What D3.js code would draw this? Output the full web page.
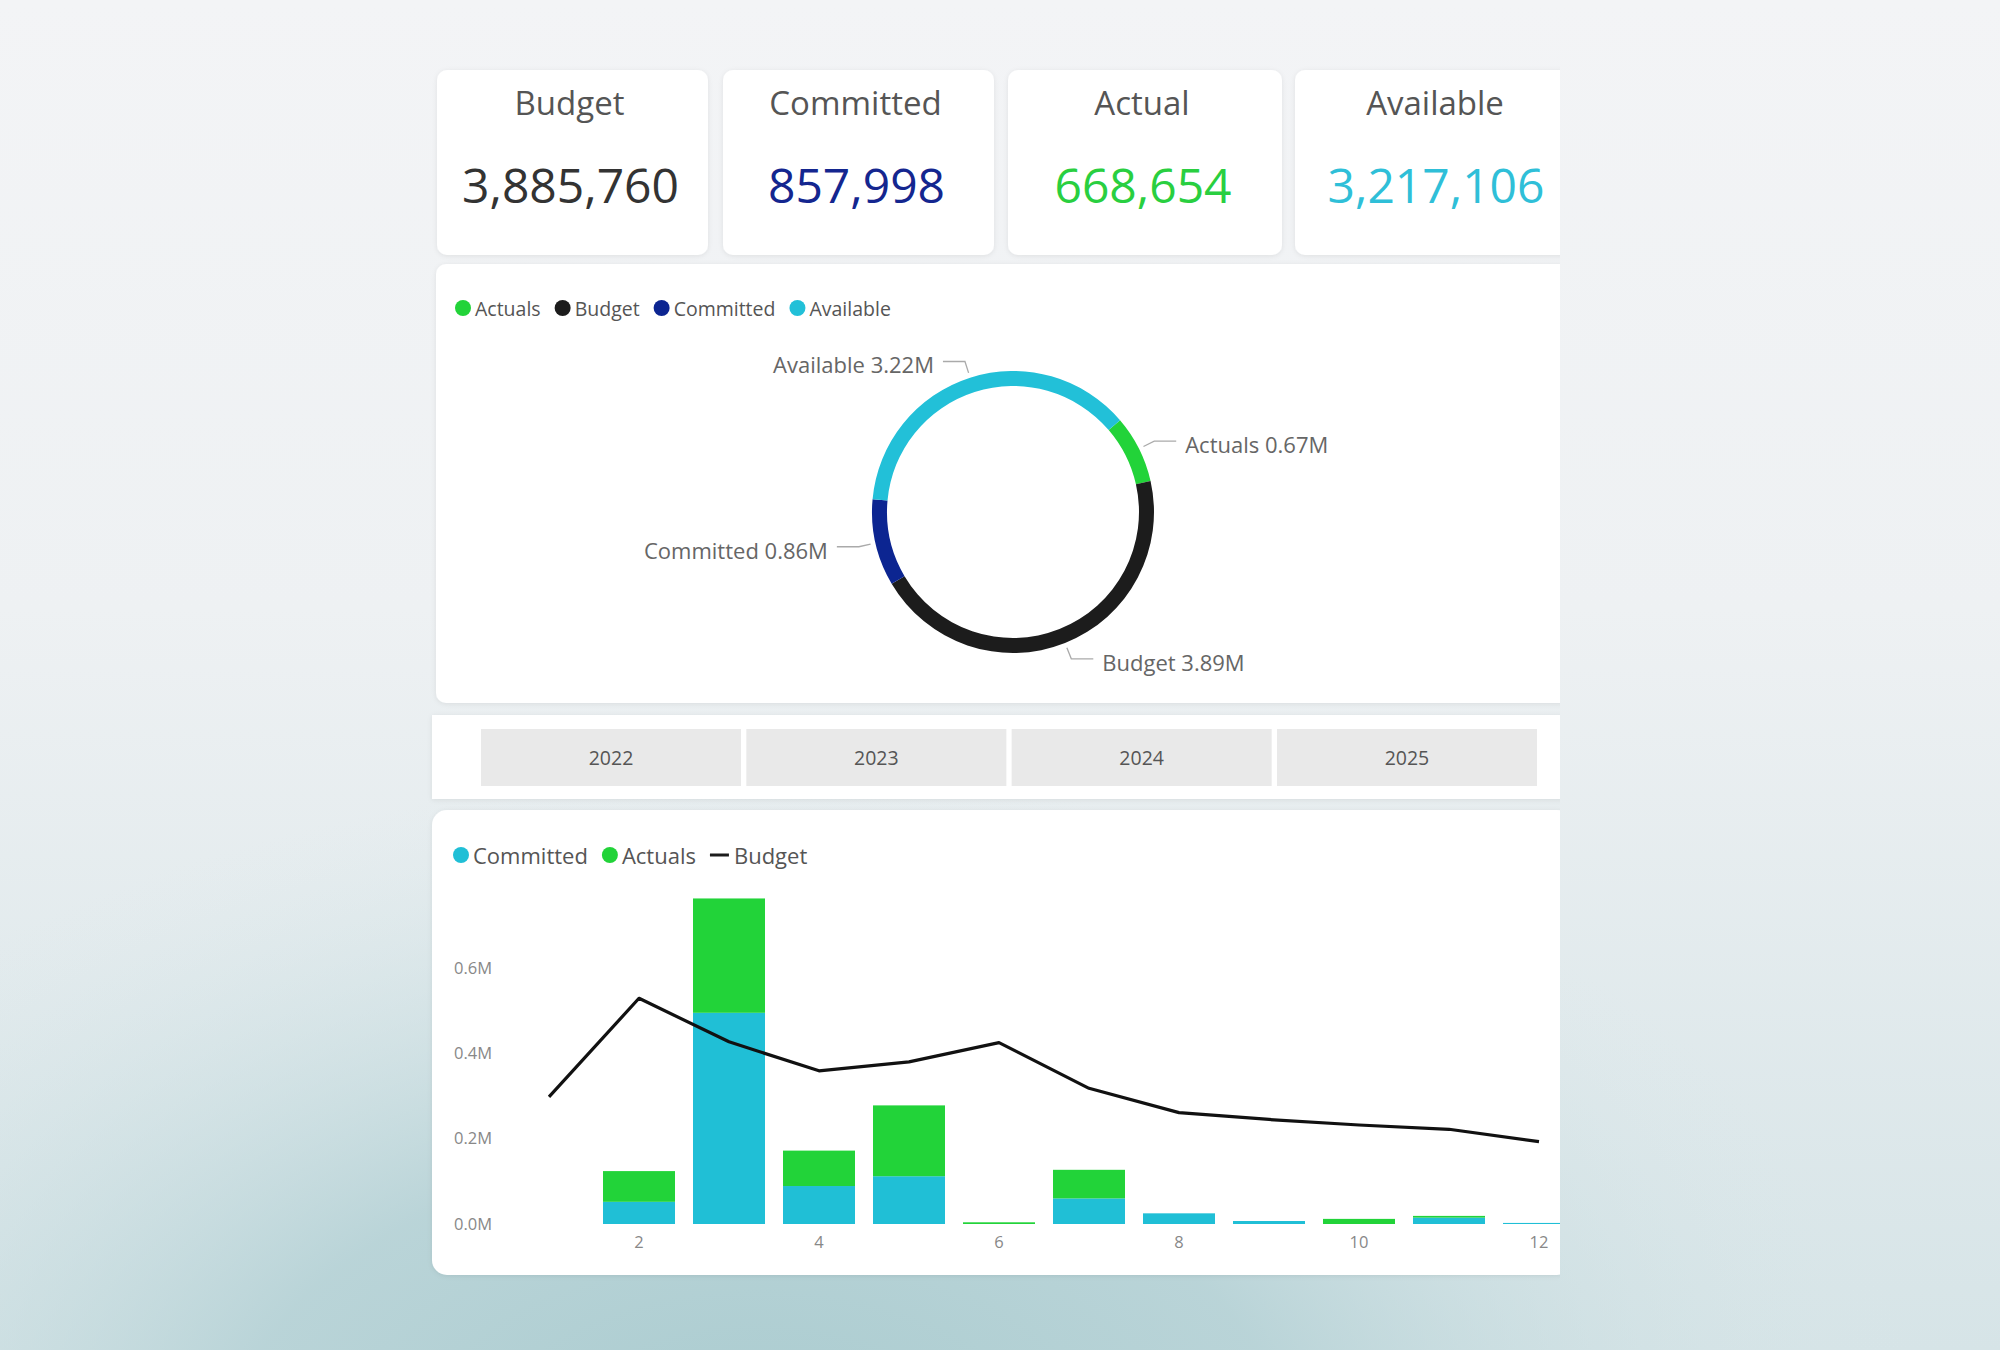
<!DOCTYPE html>
<html>
<head>
<meta charset="utf-8">
<script src="https://cdn.jsdelivr.net/npm/d3@7"></script>
<style>
  body { margin: 0; }
  svg { display: block; font-family: "Segoe UI", "Open Sans", sans-serif; }
</style>
</head>
<body>
<div id="chart"></div>
<script>
// card values
var cardTitles = ["Budget", "Committed", "Actual", "Available"];
var cardValues = [3885760, 857998, 668654, 3217106];

// donut
var donutCategories = ["Actuals", "Budget", "Committed", "Available"];
var donutValues = [668654, 3885760, 857998, 3217106];

// year slicer
var years = ["2022", "2023", "2024", "2025"];

// monthly bars + line
var months = [1, 2, 3, 4, 5, 6, 7, 8, 9, 10, 11, 12];
var committed = [0, 52000, 495000, 89000, 112000, 0, 60000, 25000, 7000, 0, 15000, 2500];
var actuals = [0, 72000, 268000, 83000, 166000, 4000, 67000, 0, 0, 12000, 4000, 0];
var budget = [298000, 529000, 427000, 359000, 380000, 425000, 318000, 261000, 245000, 232000, 222000, 193000];
var yTicks = [0, 200000, 400000, 600000];
var xTicks = [2, 4, 6, 8, 10, 12];

var colors = {
  Actuals: "#22d339",
  Budget: "#1c1c1c",
  Committed: "#0c2591",
  Available: "#22c0d8"
};
var cardColors = ["#333333", "#14268f", "#29cf40", "#2fbfd8"];
var barCyan = "#20bfd6";

var W = 2000, H = 1350;
var svg = d3.select("#chart").append("svg")
  .attr("width", W)
  .attr("height", H);

var defs = svg.append("defs");

// background gradients
var lg = defs.append("linearGradient").attr("id", "bg").attr("x1", 0).attr("y1", 0).attr("x2", 0).attr("y2", 1);
lg.append("stop").attr("offset", "0%").attr("stop-color", "#f3f4f6");
lg.append("stop").attr("offset", "45%").attr("stop-color", "#eef1f3");
lg.append("stop").attr("offset", "100%").attr("stop-color", "#d6e4e7");
var rg = defs.append("radialGradient").attr("id", "glow")
  .attr("gradientUnits", "userSpaceOnUse")
  .attr("cx", 760).attr("cy", 1450).attr("r", 900)
  .attr("gradientTransform", "translate(760,1450) scale(1.3,0.75) translate(-760,-1450)");
rg.append("stop").attr("offset", "0%").attr("stop-color", "#a9cbcf").attr("stop-opacity", 1);
rg.append("stop").attr("offset", "45%").attr("stop-color", "#b4d1d5").attr("stop-opacity", 0.85);
rg.append("stop").attr("offset", "100%").attr("stop-color", "#dbe8ea").attr("stop-opacity", 0);

var shadow = defs.append("filter").attr("id", "shadow").attr("x", "-10%").attr("y", "-10%").attr("width", "120%").attr("height", "130%");
shadow.append("feDropShadow").attr("dx", 0).attr("dy", 1).attr("stdDeviation", 2.5)
  .attr("flood-color", "#000").attr("flood-opacity", 0.08);

defs.append("clipPath").attr("id", "dash")
  .append("rect").attr("x", 0).attr("y", 0).attr("width", 1560).attr("height", H);

svg.append("rect").attr("width", W).attr("height", H).attr("fill", "url(#bg)");
svg.append("rect").attr("width", W).attr("height", H).attr("fill", "url(#glow)");

var dash = svg.append("g").attr("clip-path", "url(#dash)");

// ---- KPI cards
var cardX = [437, 723, 1008, 1295];
var cardW = [271, 271, 274, 286];
var fmt = d3.format(",");
var cards = dash.selectAll(".card")
  .data(cardTitles)
  .enter()
  .append("g")
  .attr("class", "card")
  .attr("transform", function(d, i) { return "translate(" + cardX[i] + ",70)"; });
cards.append("rect")
  .attr("width", function(d, i) { return cardW[i]; })
  .attr("height", 185)
  .attr("rx", 10)
  .attr("fill", "#fff")
  .attr("filter", "url(#shadow)");
cards.append("text")
  .attr("x", function(d, i) { return cardW[i] / 2 - 3; })
  .attr("y", 45)
  .attr("text-anchor", "middle")
  .attr("font-size", 33)
  .attr("fill", "#555")
  .text(function(d) { return d; });
cards.append("text")
  .attr("x", function(d, i) { return cardW[i] / 2 - 2; })
  .attr("y", 133)
  .attr("text-anchor", "middle")
  .attr("font-size", 48)
  .attr("fill", function(d, i) { return cardColors[i]; })
  .text(function(d, i) { return fmt(cardValues[i]); });

// ---- donut panel
dash.append("rect")
  .attr("x", 436).attr("y", 264).attr("width", 1140).attr("height", 439)
  .attr("rx", 10).attr("fill", "#fff").attr("filter", "url(#shadow)");

// legend
function legend(g, items, x0, y0, size, gap, kinds) {
  var x = x0;
  items.forEach(function(name, i) {
    if (kinds && kinds[i] === "line") {
      g.append("line").attr("x1", x - 8).attr("x2", x + 11).attr("y1", y0).attr("y2", y0)
        .attr("stroke", colors[name]).attr("stroke-width", 3);
      x += 4;
    } else {
      g.append("circle").attr("cx", x).attr("cy", y0).attr("r", 8)
        .attr("fill", kinds ? (name === "Committed" ? barCyan : colors[name]) : colors[name]);
    }
    var t = g.append("text").attr("x", x + 12).attr("y", y0)
      .attr("dominant-baseline", "central")
      .attr("font-size", size).attr("fill", "#555").text(name);
    x = x + 12 + t.node().getComputedTextLength() + gap;
  });
}
legend(dash.append("g"), donutCategories, 463, 308, 19.5, 22);

var cx = 1013, cy = 512, rOut = 141, rIn = 126;
var pie = d3.pie().sort(null).value(function(d) { return d; })
  .startAngle(49.4 * Math.PI / 180)
  .endAngle(49.4 * Math.PI / 180 + 2 * Math.PI);
var arc = d3.arc().innerRadius(rIn).outerRadius(rOut);
var arcs = pie(donutValues);
var donut = dash.append("g").attr("transform", "translate(" + cx + "," + cy + ")");
donut.selectAll("path")
  .data(arcs)
  .enter()
  .append("path")
  .attr("d", arc)
  .attr("fill", function(d, i) { return colors[donutCategories[i]]; });

// data labels with leader lines
arcs.forEach(function(d, i) {
  var a = (d.startAngle + d.endAngle) / 2;
  var sx = Math.sin(a), sy = -Math.cos(a);
  var p1 = [sx * 146, sy * 146];
  var p2 = [sx * 158, sy * 158];
  var dir = sx >= 0 ? 1 : -1;
  var p3 = [p2[0] + dir * 22, p2[1]];
  donut.append("polyline")
    .attr("points", [p1, p2, p3].map(function(p) { return p.join(","); }).join(" "))
    .attr("fill", "none").attr("stroke", "#aaa").attr("stroke-width", 1.3);
  donut.append("text")
    .attr("x", p3[0] + dir * 9).attr("y", p3[1] + 3)
    .attr("dominant-baseline", "central")
    .attr("text-anchor", dir > 0 ? "start" : "end")
    .attr("font-size", 22).attr("fill", "#666")
    .text(donutCategories[i] + " " + (d.value / 1e6).toFixed(2) + "M");
});

// ---- year slicer
dash.append("rect")
  .attr("x", 432).attr("y", 715).attr("width", 1140).attr("height", 84)
  .attr("fill", "#fff").attr("filter", "url(#shadow)");
var yb = d3.scaleBand().domain(years).range([481, 1537]).paddingInner(0.02);
var btn = dash.selectAll(".yr").data(years).enter().append("g").attr("class", "yr");
btn.append("rect")
  .attr("x", function(d) { return yb(d); })
  .attr("y", 729)
  .attr("width", yb.bandwidth())
  .attr("height", 57)
  .attr("fill", "#e9e9e9");
btn.append("text")
  .attr("x", function(d) { return yb(d) + yb.bandwidth() / 2; })
  .attr("y", 757)
  .attr("text-anchor", "middle")
  .attr("dominant-baseline", "central")
  .attr("font-size", 19.5)
  .attr("fill", "#555")
  .text(function(d) { return d; });

// ---- monthly chart panel
dash.append("rect")
  .attr("x", 432).attr("y", 810).attr("width", 1140).attr("height", 465)
  .attr("rx", 15).attr("fill", "#fff").attr("filter", "url(#shadow)");

legend(dash.append("g"), ["Committed", "Actuals", "Budget"], 461, 855, 22, 22, ["dot", "dot", "line"]);

var x = d3.scaleBand()
  .domain(months)
  .range([504, 1584])
  .paddingInner(0.2)
  .paddingOuter(0.1);
var y = d3.scaleLinear()
  .domain([0, 0.6e6])
  .range([1224, 968]);

var chart = dash.append("g");

chart.append("g")
  .attr("transform", "translate(500,0)")
  .call(d3.axisLeft(y).tickValues(yTicks).tickSize(0).tickPadding(8)
    .tickFormat(function(d) { return (d / 1e6).toFixed(1) + "M"; }))
  .call(function(g) { g.select(".domain").remove(); })
  .selectAll("text")
  .attr("font-family", "\"Segoe UI\", \"Open Sans\", sans-serif")
  .attr("font-size", 16.5)
  .attr("fill", "#888");

chart.append("g")
  .attr("transform", "translate(0,1224)")
  .call(d3.axisBottom(x).tickValues(xTicks).tickSize(0).tickPadding(12))
  .call(function(g) { g.select(".domain").remove(); })
  .selectAll("text")
  .attr("font-family", "\"Segoe UI\", \"Open Sans\", sans-serif")
  .attr("font-size", 16.5)
  .attr("fill", "#888");

var stacked = months.map(function(m, i) {
  return { month: m, committed: committed[i], actuals: actuals[i] };
});

// committed part
chart.selectAll(".bc")
  .data(stacked)
  .enter()
  .append("rect")
  .attr("class", "bc")
  .attr("x", function(d) { return x(d.month); })
  .attr("width", x.bandwidth())
  .attr("y", function(d) { return y(d.committed); })
  .attr("height", function(d) { return y(0) - y(d.committed); })
  .attr("fill", barCyan);

// actuals on top
chart.selectAll(".ba")
  .data(stacked)
  .enter()
  .append("rect")
  .attr("class", "ba")
  .attr("x", function(d) { return x(d.month); })
  .attr("width", x.bandwidth())
  .attr("y", function(d) { return y(d.committed + d.actuals); })
  .attr("height", function(d) { return y(d.committed) - y(d.committed + d.actuals); })
  .attr("fill", colors.Actuals);

// budget line
var line = d3.line()
  .x(function(d, i) { return x(months[i]) + x.bandwidth() / 2; })
  .y(function(d) { return y(d); });
chart.append("path")
  .datum(budget)
  .attr("d", line)
  .attr("fill", "none")
  .attr("stroke", "#111")
  .attr("stroke-width", 3.2)
  .attr("stroke-linejoin", "round");
</script>
</body>
</html>
